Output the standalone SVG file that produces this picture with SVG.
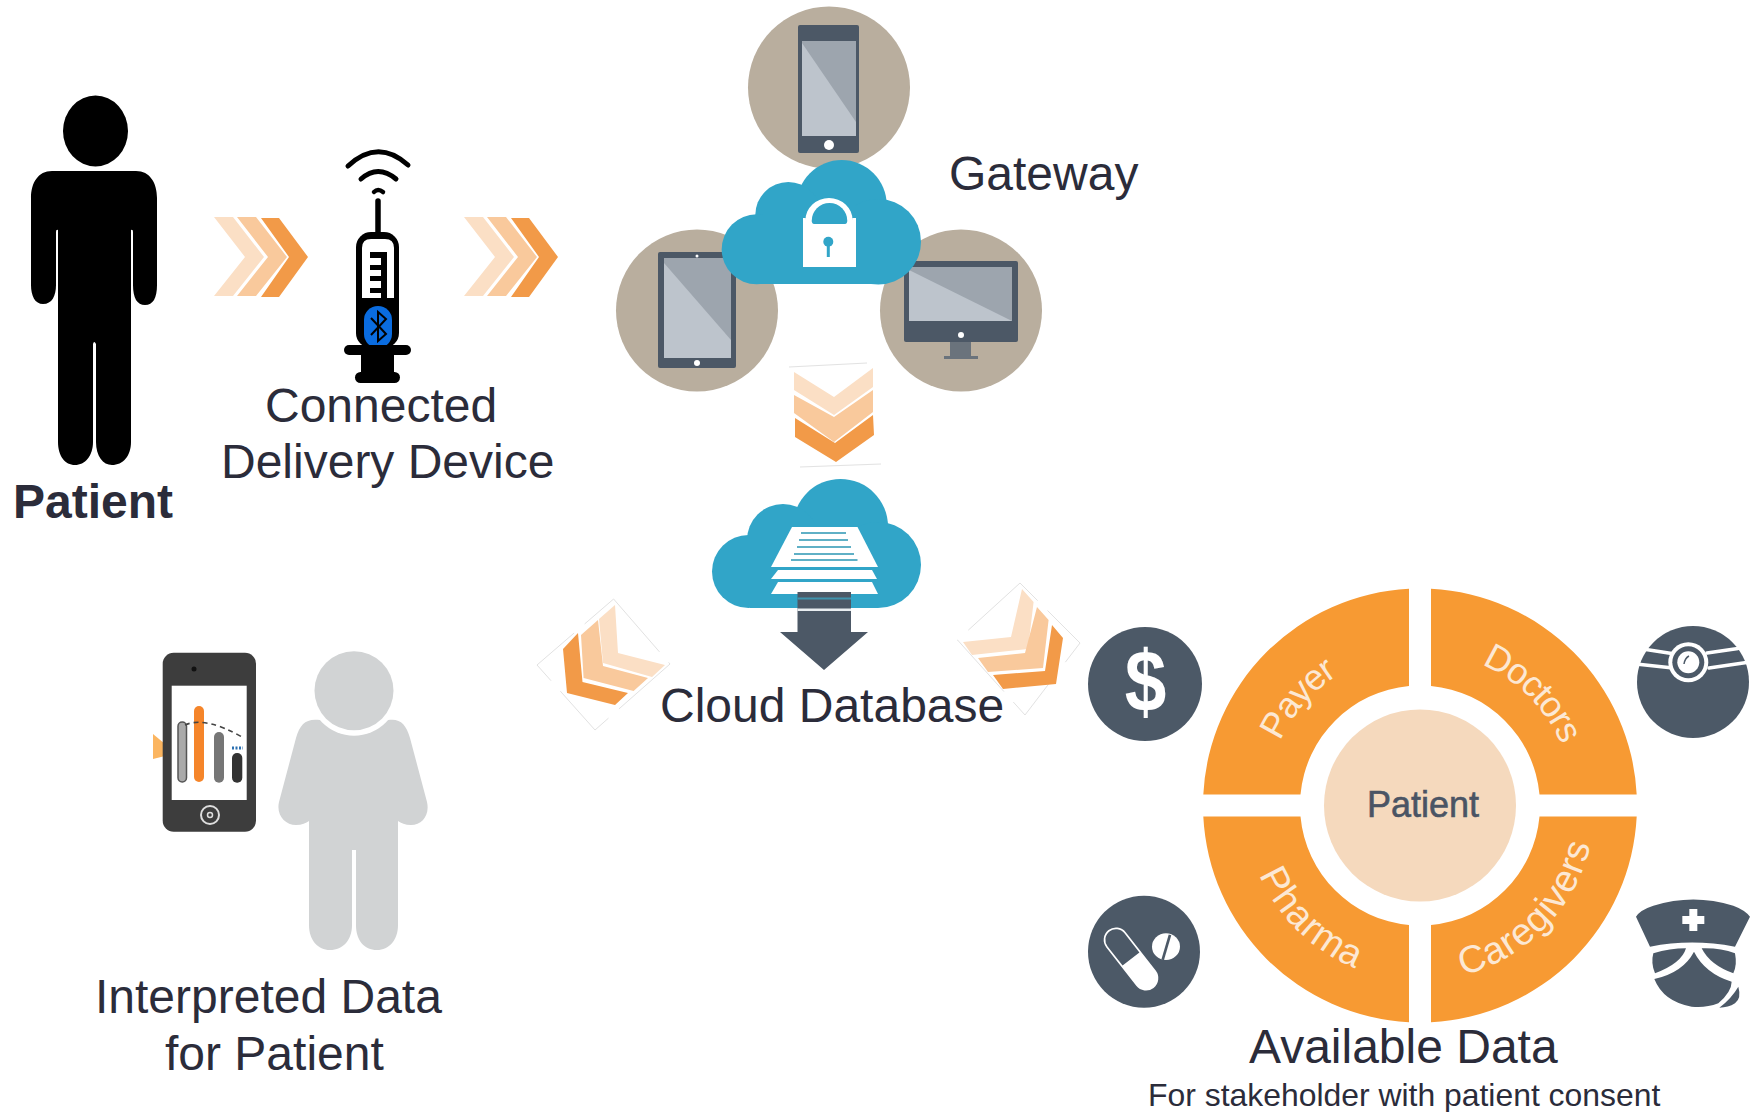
<svg xmlns="http://www.w3.org/2000/svg" xmlns:xlink="http://www.w3.org/1999/xlink" width="1756" height="1112" viewBox="0 0 1756 1112">
<style>
text{font-family:"Liberation Sans",Arial,sans-serif}
.lbl{font-size:48px;fill:#2b2c3a}
.c1{fill:#fbdfc5}.c2{fill:#f9c99c}.c3{fill:#f29a48}
.frame{fill:none;stroke:#e2e2e2;stroke-width:1}
.tan{fill:#b9ae9e}.dev{fill:#4c5866}.sl{fill:#bdc4cc}.sd{fill:#9da5ae}
.cl{fill:#31a5c8}.wh{fill:#fff}
.seg{fill:#f79a33}.rt{font-size:36px;fill:#fce8d4;letter-spacing:-1.3px}.rb{font-size:38px;fill:#fce8d4;letter-spacing:.9px}
.ico{fill:#4c5967}
.line{stroke:#5fb0c6;stroke-width:2}
.wl{fill:none;stroke:#fff;stroke-linecap:round}
</style>
<defs>
<g id="chev-right">
<polygon class="c1" points="214,217 233,217 264,257 233,296 214,296 245,257"/>
<polygon class="c2" points="237,217 256,217 287,257 256,296 237,296 268,257"/>
<polygon class="c3" points="261,218 279,218 308,257 279,297 261,297 289,257"/>
</g>
<path id="arcTop" d="M1266,805.5A154,154 0 0 1 1574,805.5"/>
<path id="arcBottom" d="M1245,805.5A175,175 0 0 0 1595,805.5"/>
</defs>
<rect width="1756" height="1112" fill="#fff"/>

<g id="patient">
<ellipse cx="95.5" cy="131" rx="32.5" ry="35.5" fill="#000"/>
<path fill="#000" d="M52,171H136C150,171 157,183 157,198V285C157,298 153,305 145,305C137,305 133,298 133,285V232Q133,229 131,230V442C131,456 123,465 112,465C103,465 96,456 96,442V344Q94,340 93,344V442C93,456 85,465 75,465C65,465 58,456 58,442V230Q56,229 56,232V285C56,296 52,304 43,304C35,304 31,296 31,285V198C31,183 38,171 52,171Z"/>
<text x="13" y="518" font-size="48" font-weight="700" fill="#2b2c3a">Patient</text>
</g>

<g id="device">
<g fill="none" stroke="#000" stroke-linecap="round">
<path stroke-width="5" d="M348,166Q378,138 408,165"/>
<path stroke-width="5" d="M361,179Q378,164 396,179"/>
<path stroke-width="4.5" d="M374,192Q378,188 383,192"/>
<path stroke-width="5.5" d="M378,201V234"/>
</g>
<rect x="356" y="232" width="43" height="116" rx="15" fill="#000"/>
<path class="wh" d="M362,298V248Q362,239 371,239H385Q394,239 394,248V298Z"/>
<path fill="#000" d="M370,252H387V298H381V293H370V288H381V281H370V276H381V270H370V265H381V258H370Z"/>
<rect x="364" y="306" width="28" height="42" rx="14" fill="#0a6ce0"/>
<path fill="none" stroke="#000" stroke-width="2" d="M371,318L386,334L378,341V312L386,319L371,335"/>
<rect x="344" y="345" width="67" height="10" rx="5" fill="#000"/>
<rect x="361" y="350" width="33" height="25" fill="#000"/>
<rect x="355" y="372" width="45" height="11" rx="5.5" fill="#000"/>
<text x="265" y="422" class="lbl">Connected</text>
<text x="221" y="478" class="lbl">Delivery Device</text>
</g>

<g id="gateway">
<circle class="tan" cx="829" cy="87.5" r="81"/>
<circle class="tan" cx="697" cy="310.5" r="81"/>
<circle class="tan" cx="961" cy="310.5" r="81"/>
<rect class="dev" x="798" y="25" width="61" height="128" rx="2"/>
<rect class="sl" x="802" y="41" width="54" height="95"/>
<polygon class="sd" points="802,41 856,41 856,122 802,43"/>
<circle class="wh" cx="829" cy="145" r="5"/>
<rect class="dev" x="658" y="252" width="78" height="116" rx="2"/>
<rect class="sl" x="664" y="258" width="67" height="100"/>
<polygon class="sd" points="664,258 731,258 731,340 664,263"/>
<circle class="wh" cx="697" cy="363" r="3"/>
<circle class="wh" cx="697" cy="256" r="1.5"/>
<rect class="dev" x="904" y="261" width="114" height="81" rx="2"/>
<rect class="sl" x="909" y="267" width="103" height="54"/>
<polygon class="sd" points="909,267 1012,267 1012,321 909,270"/>
<circle class="wh" cx="961" cy="335" r="3"/>
<polygon fill="#6a737c" points="950,342 971,342 971,356 978,356 978,359 944,359 944,356 950,356"/>
<g class="cl">
<circle cx="841.7" cy="205" r="45"/>
<circle cx="788.3" cy="215" r="33"/>
<circle cx="756.7" cy="249.3" r="35"/>
<circle cx="878.3" cy="241.7" r="42.7"/>
<rect x="756" y="215" width="122" height="69"/>
</g>
<path class="wh" d="M803,218H805.5V220A23.5,22 0 0 1 852.5,220V218H856V267H803Z"/>
<path class="cl" d="M811.7,221A17.8,18 0 0 1 847.3,221Q847,224 845,224H814Q812,224 811.7,221Z"/>
<circle class="cl" cx="828.3" cy="241.7" r="5"/>
<rect class="cl" x="826.8" y="241" width="3" height="16"/>
<text x="949" y="190" class="lbl">Gateway</text>
</g>

<g id="cloud-database">
<g class="cl">
<circle cx="840.5" cy="526.5" r="47.5"/>
<circle cx="783" cy="540" r="36"/>
<circle cx="748.5" cy="571.5" r="36.5"/>
<circle cx="878" cy="565" r="43"/>
<rect x="750" y="535" width="128" height="73"/>
</g>
<polygon class="wh" points="792,527 857.5,527 878,567 771,567"/>
<polygon class="wh" points="778,570 872,570 877,579 771,579"/>
<polygon class="wh" points="778,582 872,582 878,594 771,594"/>
<g class="line">
<path d="M801,533H846M799,540H848M797,547H851M794,554H854M791,560H857.5"/>
</g>
<polygon class="dev" points="797.5,592 851,592 851,632 868,632 824,670 780,632 797.5,632"/>
<rect x="797.5" y="597.5" width="53.5" height="2" fill="#3f93ad"/>
<rect x="797.5" y="608.5" width="53.5" height="2.5" fill="#e9edf0"/>
<text x="660" y="722" class="lbl">Cloud Database</text>
</g>

<g id="connectors">
<use xlink:href="#chev-right" href="#chev-right"/>
<use xlink:href="#chev-right" href="#chev-right" x="250"/>
<path class="frame" d="M789,367L867,363M800,467L881,464"/>
<polygon class="c1" points="794,372 834,397 873,368 873,387 834,415 794,390"/>
<polygon class="c2" points="794,395 834,417 873,390 873,412 834,442 794,413"/>
<polygon class="c3" points="795,418 835,443 873,415 874,435 836,462 795,437"/>
<polygon class="frame" points="613.6,599 670,664 595,730 537,665" stroke-dasharray="70 14"/>
<polygon class="c1" points="615,605 599,619 603,663 652,677 665,665 618,653"/>
<polygon class="c2" points="598,620 581,635 583.6,678 633.6,691 648,678 603,666"/>
<polygon class="c3" points="578,633 563,649 567,693 615,705 628,693 582.5,682"/>
<polygon class="frame" points="1020,583 957.5,640 1025,715 1080,643" stroke-dasharray="70 14"/>
<polygon class="c1" points="1022,589 1033.6,602 1028,649 972,655 963,642 1011,637"/>
<polygon class="c2" points="1037,607 1048.6,620 1043,668 988,672 978,658 1025,653"/>
<polygon class="c3" points="1052,625 1063,638 1056,684 1003,689 993,675 1045,671"/>
</g>

<g id="interpreted-data">
<polygon fill="#fbb560" points="153,734 165,744 165,756 153,759"/>
<rect x="162.7" y="652.7" width="93.3" height="179" rx="11" fill="#3d3d3d"/>
<rect x="171.7" y="685.7" width="75" height="114.3" class="wh"/>
<circle cx="194" cy="669" r="2.5" fill="#111"/>
<circle cx="210" cy="815" r="9" fill="none" stroke="#ddd" stroke-width="2"/>
<circle cx="210" cy="815" r="2.5" fill="none" stroke="#ddd" stroke-width="1.5"/>
<rect x="178" y="722" width="8.5" height="60" rx="4.2" fill="#aaa" stroke="#555" stroke-width="1.5"/>
<rect x="194" y="706" width="10" height="76" rx="5" fill="#f5852a"/>
<rect x="214" y="732" width="10" height="50.7" rx="5" fill="#767676"/>
<rect x="232" y="753" width="10.3" height="29.7" rx="5" fill="#333"/>
<path d="M185,725Q205,716 242,737" fill="none" stroke="#444" stroke-width="1.6" stroke-dasharray="5 4"/>
<path d="M232,748H243" stroke="#2a6fb0" stroke-width="3" stroke-dasharray="2 1.5"/>
<path fill="#d1d3d4" d="M320,720C306,718 300,724 296,738L279,802C276,815 285,825 296,825C302,825 306,823 309,821V925C309,940 318,950 330,950C343,950 352,940 352,925V850H356V925C356,940 364,950 377,950C389,950 398,940 398,925V821C401,823 405,825 411,825C422,825 430,815 427,802L410,738C406,724 400,718 388,720Z"/>
<circle class="wh" cx="354" cy="690.7" r="45"/>
<circle cx="354" cy="690.7" r="39.5" fill="#d1d3d4"/>
<text x="95" y="1013" class="lbl">Interpreted Data</text>
<text x="165" y="1070" class="lbl">for Patient</text>
</g>

<g id="stakeholder-wheel">
<path class="seg" d="M1409,588.8V686A120,120 0 0 0 1300.5,794.5H1203.3A217,217 0 0 1 1409,588.8Z"/>
<path class="seg" d="M1431,588.8V686A120,120 0 0 1 1539.5,794.5H1636.7A217,217 0 0 0 1431,588.8Z"/>
<path class="seg" d="M1409,1022.2V925A120,120 0 0 1 1300.5,816.5H1203.3A217,217 0 0 0 1409,1022.2Z"/>
<path class="seg" d="M1431,1022.2V925A120,120 0 0 0 1539.5,816.5H1636.7A217,217 0 0 1 1431,1022.2Z"/>
<circle cx="1420" cy="805.5" r="96" fill="#f5d9bd"/>
<text x="1423" y="817" text-anchor="middle" font-size="36" fill="#4a5464" stroke="#4a5464" stroke-width=".6">Patient</text>
<text class="rt" text-anchor="middle"><textPath xlink:href="#arcTop" href="#arcTop" startOffset="22.8%">Payer</textPath></text>
<text class="rt" text-anchor="middle"><textPath xlink:href="#arcTop" href="#arcTop" startOffset="75%">Doctors</textPath></text>
<text class="rb" text-anchor="middle"><textPath xlink:href="#arcBottom" href="#arcBottom" startOffset="25.5%">Pharma</textPath></text>
<text class="rb" text-anchor="middle"><textPath xlink:href="#arcBottom" href="#arcBottom" startOffset="75.4%">Caregivers</textPath></text>
<text x="1249" y="1063" class="lbl">Available Data</text>
<text x="1148" y="1106" font-size="31.9" fill="#2b2c3a">For stakeholder with patient consent</text>
</g>

<g id="payer">
<circle class="ico" cx="1145" cy="684" r="57"/>
<text transform="translate(1145.5 712) scale(.85 1)" text-anchor="middle" font-size="88" font-weight="700" fill="#fff">$</text>
</g>

<g id="doctors">
<circle class="ico" cx="1693" cy="682" r="56"/>
<path class="wl" stroke-width="3.5" d="M1646,649.5L1675,654M1636,664L1673,668M1738,648.5L1707,653M1750,662L1709,668"/>
<circle cx="1688.3" cy="662.3" r="20" fill="#fff"/>
<circle class="ico" cx="1688.3" cy="662.3" r="16"/>
<circle cx="1688.3" cy="662.3" r="11" fill="#fff"/>
<path fill="none" stroke="#4c5967" stroke-width="1.5" d="M1684,664Q1685,658 1689,656"/>
</g>

<g id="pharma" transform="translate(1080 885) scale(.3333)">
<circle class="ico" cx="192" cy="200" r="168"/>
<g transform="rotate(-38 153 222)">
<rect x="116" y="112" width="74" height="220" rx="37" fill="#fff"/>
<path class="ico" d="M121,222V149A32,32 0 0 1 185,149V222Z"/>
</g>
<ellipse cx="258" cy="185" rx="42" ry="40" fill="#fff"/>
<path d="M270,150L248,225" stroke="#4c5967" stroke-width="8"/>
</g>

<g id="caregivers" transform="translate(1620 885) scale(.3333)">
<path class="ico" d="M48,95Q60,75 100,62Q220,25 340,62Q375,75 390,95L345,185Q215,160 90,185Z"/>
<path class="wh" d="M208,72H232V93H253V117H232V138H208V117H187V93H208Z"/>
<path class="ico" d="M100,205Q150,190 198,190Q185,235 105,265Q92,235 100,205Z"/>
<path class="ico" d="M245,190Q300,188 345,205Q352,240 340,265Q270,240 245,190Z"/>
<path class="ico" d="M103,282Q190,262 222,200Q255,265 335,290Q335,320 295,355Q255,370 215,365Q130,350 103,282Z"/>
<path class="ico" d="M355,305Q365,340 345,355Q325,368 298,368Q335,340 355,305Z"/>
</g>
</svg>
